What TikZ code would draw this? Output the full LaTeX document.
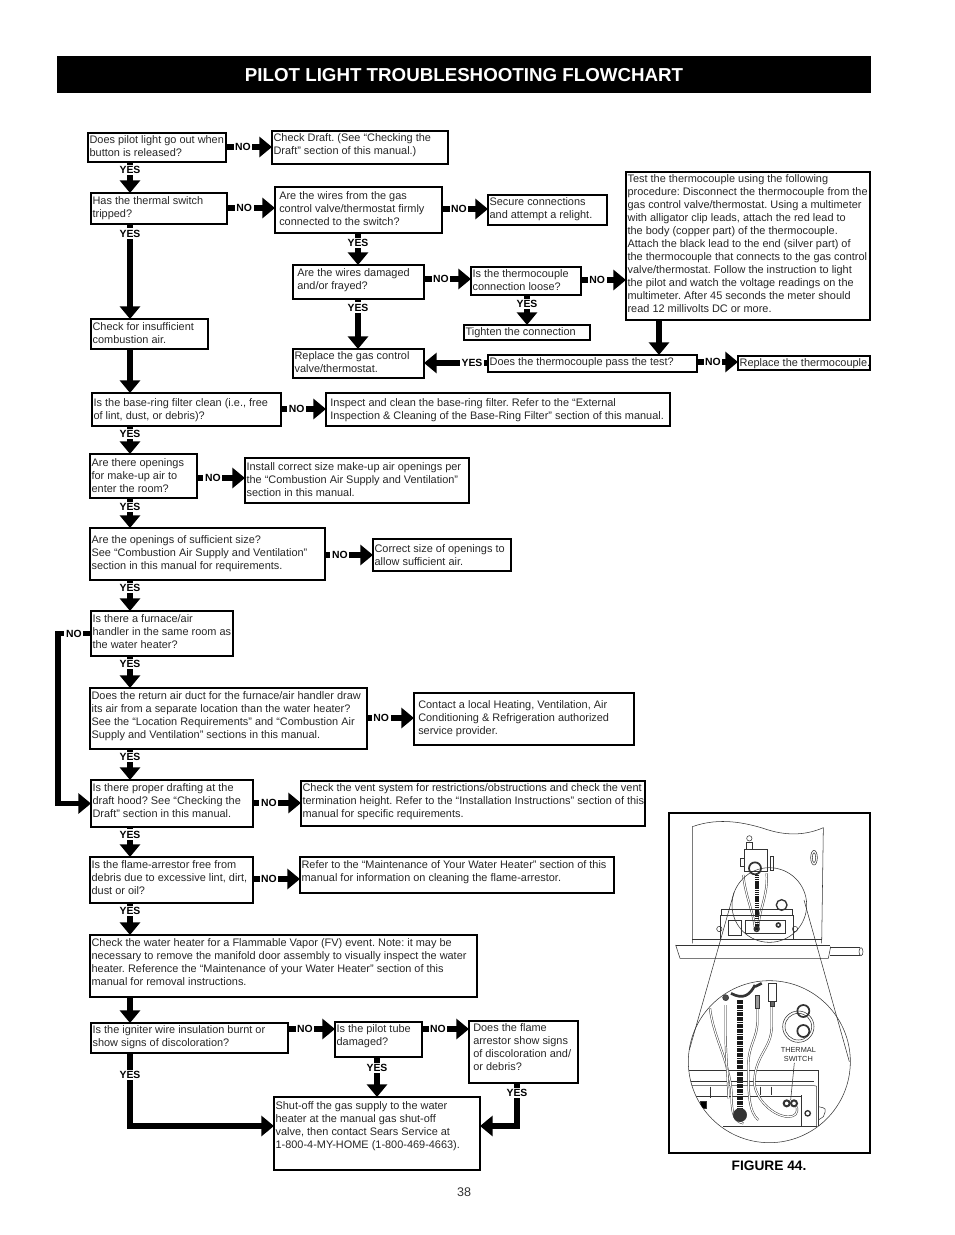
\documentclass[tikz,border=0pt]{standalone}
\usepackage{fontspec}
\setmainfont{Liberation Sans}
\usetikzlibrary{arrows.meta}
\tikzset{
  stepbox/.style={draw, line width=0.95pt, anchor=north west, inner sep=0pt, outer sep=0pt, text=black!85},
  flowarrow/.style={line width=3.8pt, -{Triangle[length=9.5pt, width=15pt]}},
  nolabel/.style={fill=white, inner xsep=1.2pt, inner ysep=1pt, font=\bfseries\fontsize{7.8}{9}\selectfont},
  yeslabel/.style={nolabel},
  figline/.style={line width=0.4pt, black!80},
  tubeline/.style={double=white, draw=black!80, line width=0.35pt, double distance=0.9pt}
}
\newlength{\stepW}
\newlength{\stepH}
\newcommand{\stepnode}[6]{%
  \pgfmathsetlength{\stepW}{(#4-#2)*0.75pt}%
  \pgfmathsetlength{\stepH}{(#5-#3)*0.75pt}%
  \node[stepbox] (#1) at (#2,#3) {\parbox[c][\stepH][t]{\stepW}{\fontsize{8.2}{9.75}\selectfont\frenchspacing
    \leftskip=1.2pt \rightskip=-8pt plus 1fil \vspace*{1.8pt}#6}};%
}
\newcommand{\ind}{\hspace*{2pt}}
\newcommand{\down}[1]{\vspace*{#1pt}}
\begin{document}
\begin{tikzpicture}[x=0.75pt, y=-0.75pt]
  \useasboundingbox (0,0) rectangle (954,1235);
  \path[fill=black] (57,56) rectangle (871,93);
  \node[text=white, font=\bfseries\fontsize{14.05}{16}\selectfont] (title) at (464,75) {PILOT LIGHT TROUBLESHOOTING FLOWCHART};

  \coordinate (colA) at (130,0);
  \coordinate (colB) at (358,0);
  \coordinate (colC) at (527,0);
  \coordinate (colD) at (659,0);
  \coordinate (colE) at (377,0);
  \coordinate (colF) at (517,0);
  \coordinate (colG) at (58,0);

  \stepnode{pilot}{88}{133}{226}{162}{Does pilot light go out when\\button is released?}
  \stepnode{draft}{272}{131}{448}{164}{Check Draft. (See “Checking the\\Draft” section of this manual.)}
  \stepnode{switch}{91}{193}{227}{224}{\down{.75}Has the thermal switch\\tripped?}
  \stepnode{wires}{275}{187}{442}{233}{\down{1.5}\ind Are the wires from the gas\\\ind control valve/thermostat firmly\\\ind connected to the switch?}
  \stepnode{secure}{488}{195}{607}{225}{Secure connections\\and attempt a relight.}
  \stepnode{damaged}{293}{265}{424}{299}{\down{.75}\ind Are the wires damaged\\\ind and/or frayed?}
  \stepnode{loose}{471}{267}{581}{295}{Is the thermocouple\\connection loose?}
  \stepnode{test}{626}{172}{870}{320}{Test the thermocouple using the following\\procedure: Disconnect the thermocouple from the\\gas control valve/thermostat. Using a multimeter\\with alligator clip leads, attach the red lead to\\the body (copper part) of the thermocouple.\\Attach the black lead to the end (silver part) of\\the thermocouple that connects to the gas control\\valve/thermostat. Follow the instruction to light\\the pilot and watch the voltage readings on the\\multimeter. After 45 seconds the meter should\\read 12 millivolts DC or more.}
  \stepnode{tighten}{464}{325}{590}{340}{Tighten the connection}
  \stepnode{insufficient}{91}{319}{208}{349}{\down{.75}Check for insufficient\\combustion air.}
  \stepnode{valve}{293}{349}{424}{378}{Replace the gas control\\valve/thermostat.}
  \stepnode{pass}{488}{355}{697}{372}{\down{.5}Does the thermocouple pass the test?}
  \stepnode{thermo}{738}{356}{870}{370}{Replace the thermocouple.}
  \stepnode{basering}{92}{393}{281}{426}{\down{2.25}Is the base-ring filter clean (i.e., free\\of lint, dust, or debris)?}
  \stepnode{inspect}{326}{393}{670}{426}{\down{2.25}\ind Inspect and clean the base-ring filter. Refer to the “External\\\ind Inspection \& Cleaning of the Base-Ring Filter” section of this manual.}
  \stepnode{openings}{90}{454}{197}{498}{\down{1.5}Are there openings\\for make-up air to\\enter the room?}
  \stepnode{install}{245}{458}{469}{503}{\down{1.5}Install correct size make-up air openings per\\the “Combustion Air Supply and Ventilation”\\section in this manual.}
  \stepnode{sufficient}{90}{528}{325}{580}{\down{3.75}Are the openings of sufficient size?\\See “Combustion Air Supply and Ventilation”\\section in this manual for requirements.}
  \stepnode{correct}{373}{539}{511}{571}{\down{2.25}Correct size of openings to\\allow sufficient air.}
  \stepnode{furnace}{91}{611}{233}{656}{\down{.75}Is there a furnace/air\\handler in the same room as\\the water heater?}
  \stepnode{return}{90}{688}{367}{749}{\down{.75}Does the return air duct for the furnace/air handler draw\\its air from a separate location than the water heater?\\See the “Location Requirements” and “Combustion Air\\Supply and Ventilation” sections in this manual.}
  \stepnode{contact}{414}{693}{634}{745}{\down{3.75}\ind Contact a local Heating, Ventilation, Air\\\ind Conditioning \& Refrigeration authorized\\\ind service provider.}
  \stepnode{drafting}{91}{780}{253}{827}{\down{.75}Is there proper drafting at the\\draft hood? See “Checking the\\Draft” section in this manual.}
  \stepnode{vent}{301}{781}{645}{826}{Check the vent system for restrictions/obstructions and check the vent\\termination height. Refer to the “Installation Instructions” section of this\\manual for specific requirements.}
  \stepnode{arrestor}{90}{857}{253}{903}{\down{.75}Is the flame-arrestor free from\\debris due to excessive lint, dirt,\\dust or oil?}
  \stepnode{refer}{300}{857}{614}{893}{\down{.75}Refer to the “Maintenance of Your Water Heater” section of this\\manual for information on cleaning the flame-arrestor.}
  \stepnode{vapor}{90}{935}{477}{997}{\down{.75}Check the water heater for a Flammable Vapor (FV) event. Note: it may be\\necessary to remove the manifold door assembly to visually inspect the water\\heater. Reference the “Maintenance of your Water Heater” section of this\\manual for removal instructions.}
  \stepnode{igniter}{91}{1023}{288}{1053}{Is the igniter wire insulation burnt or\\show signs of discoloration?}
  \stepnode{tube}{335}{1022}{422}{1057}{Is the pilot tube\\damaged?}
  \stepnode{flame}{469}{1021}{578}{1083}{\ind Does the flame\\\ind arrestor show signs\\\ind of discoloration and/\\\ind or debris?}
  \stepnode{shutoff}{274}{1097}{480}{1170}{\down{1.5}Shut-off the gas supply to the water\\heater at the manual gas shut-off\\valve, then contact Sears Service at\\1-800-4-MY-HOME (1-800-469-4663).}

  \coordinate (noA) at (226,147);
  \draw[flowarrow] (noA) -- node[nolabel, pos=.37] (noAl) {NO} (noA -| draft.west);
  \coordinate (noB) at (227,208);
  \draw[flowarrow] (noB) -- node[nolabel, pos=.36] (noBl) {NO} (noB -| wires.west);
  \coordinate (noC) at (442,209);
  \draw[flowarrow] (noC) -- node[nolabel, pos=.37] (noCl) {NO} (noC -| secure.west);
  \coordinate (noD) at (424,279);
  \draw[flowarrow] (noD) -- node[nolabel, pos=.36] (noDl) {NO} (noD -| loose.west);
  \coordinate (noE) at (581,280);
  \draw[flowarrow] (noE) -- node[nolabel, pos=.36] (noEl) {NO} (noE -| test.west);
  \coordinate (noF) at (697,362);
  \draw[flowarrow] (noF) -- node[nolabel, pos=.39] (noFl) {NO} (noF -| thermo.west);
  \coordinate (noG) at (281,409);
  \draw[flowarrow] (noG) -- node[nolabel, pos=.35] (noGl) {NO} (noG -| inspect.west);
  \coordinate (noH) at (197,478);
  \draw[flowarrow] (noH) -- node[nolabel, pos=.33] (noHl) {NO} (noH -| install.west);
  \coordinate (noI) at (325,555);
  \draw[flowarrow] (noI) -- node[nolabel, pos=.31] (noIl) {NO} (noI -| correct.west);
  \coordinate (noJ) at (367,718);
  \draw[flowarrow] (noJ) -- node[nolabel, pos=.3] (noJl) {NO} (noJ -| contact.west);
  \coordinate (noK) at (253,803);
  \draw[flowarrow] (noK) -- node[nolabel, pos=.33] (noKl) {NO} (noK -| vent.west);
  \coordinate (noL) at (253,879);
  \draw[flowarrow] (noL) -- node[nolabel, pos=.34] (noLl) {NO} (noL -| refer.west);
  \coordinate (noM) at (288,1029);
  \draw[flowarrow] (noM) -- node[nolabel, pos=.36] (noMl) {NO} (noM -| tube.west);
  \coordinate (noN) at (422,1029);
  \draw[flowarrow] (noN) -- node[nolabel, pos=.34] (noNl) {NO} (noN -| flame.west);
  \draw[flowarrow] (furnace.west) -- node[nolabel, pos=.52] (noOl) {NO} (colG |- furnace.west) -- (colG |- drafting.west) -- (drafting.west);

  \coordinate (yesA) at (488,363);
  \draw[flowarrow] (yesA) -- node[yeslabel, pos=.25] (yesAl) {YES} (yesA -| valve.east);

  \draw[flowarrow] (colA |- pilot.south) -- node[yeslabel, pos=.26] (yesBl) {YES} (colA |- switch.north);
  \draw[flowarrow] (colA |- switch.south) -- node[yeslabel, pos=.1] (yesCl) {YES} (colA |- insufficient.north);
  \draw[flowarrow] (colA |- insufficient.south) -- (colA |- basering.north);
  \draw[flowarrow] (colA |- basering.south) -- node[yeslabel, pos=.3] (yesDl) {YES} (colA |- openings.north);
  \draw[flowarrow] (colA |- openings.south) -- node[yeslabel, pos=.3] (yesEl) {YES} (colA |- sufficient.north);
  \draw[flowarrow] (colA |- sufficient.south) -- node[yeslabel, pos=.27] (yesFl) {YES} (colA |- furnace.north);
  \draw[flowarrow] (colA |- furnace.south) -- node[yeslabel, pos=.26] (yesGl) {YES} (colA |- return.north);
  \draw[flowarrow] (colA |- return.south) -- node[yeslabel, pos=.27] (yesHl) {YES} (colA |- drafting.north);
  \draw[flowarrow] (colA |- drafting.south) -- node[yeslabel, pos=.25] (yesIl) {YES} (colA |- arrestor.north);
  \draw[flowarrow] (colA |- arrestor.south) -- node[yeslabel, pos=.26] (yesJl) {YES} (colA |- vapor.north);
  \draw[flowarrow] (colA |- vapor.south) -- (colA |- igniter.north);
  \draw[flowarrow] (colB |- wires.south) -- node[yeslabel, pos=.3] (yesKl) {YES} (colB |- damaged.north);
  \draw[flowarrow] (colB |- damaged.south) -- node[yeslabel, pos=.17] (yesLl) {YES} (colB |- valve.north);
  \draw[flowarrow] (colC |- loose.south) -- node[yeslabel, pos=.3] (yesMl) {YES} (colC |- tighten.north);
  \draw[flowarrow] (colD |- test.south) -- (colD |- pass.north);
  \draw[flowarrow] (colE |- tube.south) -- node[yeslabel, pos=.27] (yesNl) {YES} (colE |- shutoff.north);
  \coordinate (shutL) at (274,1126);
  \coordinate (shutR) at (480,1126);
  \draw[flowarrow] (colA |- igniter.south) -- node[yeslabel, pos=.3] (yesOl) {YES} (colA |- shutL) -- (shutL);
  \draw[flowarrow] (colF |- flame.south) -- node[yeslabel, pos=.23] (yesPl) {YES} (colF |- shutR) -- (shutR);

  \path[draw, line width=1.3pt] (669,813) rectangle (870,1153);
  \node[font=\bfseries\fontsize{10.3}{12}\selectfont] (figcap) at (769,1166) {FIGURE 44.};
  \node[font=\fontsize{9.4}{11}\selectfont, text=black!80] (pagenum) at (464,1192) {38};

  \begin{scope}[shift={(660,805)}, x=0.25pt, y=-0.25pt, figline]
    \draw (97,415) -- (97,65) .. controls (180,35) and (260,55) .. (310,70) .. controls (380,95) and (440,90) .. (490,68) -- (485,415);
    \draw (97,403) -- (485,403);
    \draw (47,420) -- (510,420);
    \draw (47,420) -- (60,460) -- (505,460) -- (512,425);
    \draw (510,428) -- (600,428);
    \draw (510,452) -- (600,452);
    \draw (603,440) ellipse (6 and 12);
    \draw (462,158) ellipse (10 and 22);
    \draw (462,158) ellipse (5 and 15);
    \draw (252,132) rectangle (322,200);
    \draw (258,112) rectangle (278,132);
    \draw (268,100) circle (8);
    \draw[line width=1.3pt] (285,190) circle (18);
    \draw (330,155) rectangle (340,195);
    \draw (240,160) rectangle (252,185);
    \draw[tubeline] (250,210) .. controls (255,270) and (280,320) .. (285,370);
    \draw[tubeline] (320,205) .. controls (325,270) and (295,320) .. (295,370);
    \draw[line width=2.6pt, dash pattern=on 1pt off 0.4pt, black!90] (291,210) -- (291,375);
    \draw (328,300) circle (112);
    \draw (222,262) -- (88,735);
    \draw (432,285) -- (568,770);
    \draw (185,313) rectangle (397,330);
    \draw (180,330) rectangle (400,402);
    \draw (205,345) rectangle (245,390);
    \draw (255,345) rectangle (375,385);
    \draw (178,372) circle (8);
    \draw (405,372) circle (8);
    \draw[line width=1pt] (365,300) circle (16);
    \draw[line width=1.2pt] (355,360) circle (6);
    \draw[line width=1.2pt] (290,372) circle (7);
    \draw (328,770) circle (243);
    \begin{scope}
      \clip (328,770) circle (243);
      \draw (85,797) -- (475,797) -- (475,965);
      \draw (85,828) -- (462,828);
      \draw (85,842) -- (462,842) .. controls (470,842) .. (470,852) -- (470,965);
      \draw (425,870) -- (425,965);
      \draw (190,965) -- (470,965);
      \draw (475,905) .. controls (500,910) .. (490,935) -- (475,945);
      \draw (150,845) -- (150,880);
      \draw (300,845) -- (300,870);
      \draw (335,845) -- (335,870);
      \draw[fill=black] (120,890) rectangle (140,910);
      \draw (85,875) -- (425,875);
      \draw[line width=1pt] (443,925) circle (8);
      \draw[tubeline] (150,610) .. controls (160,700) and (215,780) .. (215,880) .. controls (215,930) and (225,950) .. (250,955);
      \draw[tubeline] (197,600) -- (197,690) .. controls (197,760) and (205,820) .. (205,880);
      \draw[tubeline] (292,585) -- (292,650) .. controls (292,700) and (265,720) .. (265,780) .. controls (265,860) and (265,920) .. (295,945);
      \draw[tubeline] (335,605) -- (335,665) .. controls (335,730) and (285,750) .. (283,830) .. controls (283,880) and (340,935) .. (385,935) .. controls (405,935) and (415,925) .. (410,905);
      \draw[line width=4.4pt, dash pattern=on 1.3pt off 0.5pt, black!90] (240,585) -- (240,925);
      \draw[fill=black!80] (240,930) circle (20);
      \draw[line width=2pt] (213,565) .. controls (250,585) and (270,570) .. (285,540);
      \draw[line width=2pt] (285,545) -- (305,535);
      \draw[fill=black!70] (197,578) circle (9);
      \draw[fill=black!40] (287,570) rectangle (298,610);
      \draw (325,535) rectangle (350,590);
      \draw[fill=black!60] (332,590) rectangle (343,605);
      \draw (415,665) circle (47);
      \draw (415,665) circle (40);
      \draw[line width=1.3pt] (430,618) circle (18);
      \draw[line width=1.3pt] (430,678) circle (18);
      \draw[line width=1.5pt] (380,895) circle (9);
      \draw[line width=1.5pt] (402,895) circle (9);
    \end{scope}
    \node[font=\fontsize{5.5}{6.5}\selectfont, align=center, text=black!85, inner sep=1pt] (switchlabel) at (415,748) {THERMAL\\SWITCH};
    \coordinate (switchblob) at (392,885);
    \draw (switchlabel.south) ++(-12,0) -- (switchblob);
  \end{scope}
\end{tikzpicture}
\end{document}
